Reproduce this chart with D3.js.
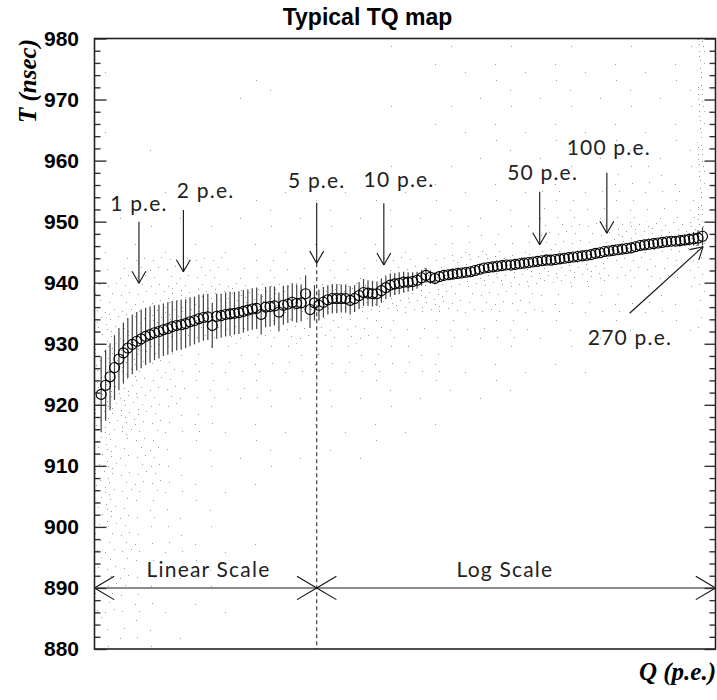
<!DOCTYPE html>
<html><head><meta charset="utf-8">
<script src="https://cdn.jsdelivr.net/npm/d3@7"></script>
<style>body{margin:0;background:#fff}</style>
</head><body>
<svg id="chart" width="717" height="700"></svg>
<script>
// ---------------- DATA ----------------
const qLinear = [0.15,0.25,0.35,0.45,0.55,0.65,0.75,0.85,0.95,1.05,1.15,1.25,1.35,1.45,1.55,1.65,1.75,1.85,1.95,2.05,2.15,2.25,2.35,2.45,2.55,2.65,2.75,2.85,2.95,3.05,3.15,3.25,3.35,3.45,3.55,3.65,3.75,3.85,3.95,4.05,4.15,4.25,4.35,4.45,4.55,4.65,4.75,4.85,4.95];
const tLinear = [921.7,923.2,924.6,926.1,927.5,928.5,929.3,929.9,930.4,930.8,931.2,931.5,931.8,932.0,932.3,932.5,932.8,933.0,933.1,933.3,933.6,933.8,934.1,934.3,934.4,933.0,934.5,934.6,934.8,934.9,935.0,935.1,935.3,935.5,935.7,935.8,934.8,936.0,936.1,936.2,935.2,936.3,936.5,936.8,936.6,936.7,938.2,935.6,936.7];
const eLinear = [6.2,5.8,5.5,5.3,5.1,5.0,4.9,4.9,4.8,4.8,4.7,4.6,4.5,4.4,4.3,4.3,4.2,4.1,4.1,4.0,4.0,3.9,3.9,3.8,3.8,3.7,3.7,3.6,3.6,3.6,3.5,3.5,3.5,3.4,3.4,3.4,3.3,3.3,3.3,3.2,3.2,3.2,3.1,3.1,3.1,3.0,3.0,3.0,2.9];

const qLog = [5.117,5.358,5.610,5.875,6.152,6.442,6.745,7.063,7.396,7.745,8.110,8.492,8.892,9.311,9.750,10.21,10.69,11.19,11.72,12.27,12.85,13.46,14.09,14.76,15.45,16.18,16.94,17.74,18.58,19.45,20.37,21.33,22.34,23.39,24.49,25.64,26.85,28.12,29.44,30.83,32.28,33.81,35.40,37.07,38.82,40.64,42.56,44.57,46.67,48.87,51.17,53.58,56.10,58.75,61.52,64.42,67.45,70.63,73.96,77.45,81.10,84.92,88.92,93.11,97.50,102.1,106.9,111.9,117.2,122.7,128.5,134.6,140.9,147.6,154.5,161.8,169.4,177.4,185.8,194.5,203.7,213.3,223.4,233.9,244.9,256.4,268.5];
const tLog = [936.3,936.8,937.2,937.4,937.4,937.4,937.4,937.1,937.4,937.9,
938.4,938.3,938.2,938.2,938.7,939.2,939.6,939.8,939.9,940.1,
940.1,940.2,940.4,940.8,941.2,940.9,940.7,941.0,941.2,941.3,
941.4,941.5,941.6,941.7,941.8,942.0,942.2,942.4,942.5,942.6,
942.7,942.8,942.9,942.9,943.0,943.1,943.2,943.3,943.4,943.5,
943.6,943.7,943.7,943.8,943.9,944.0,944.1,944.2,944.3,944.4,
944.5,944.6,944.8,944.9,945.1,945.2,945.3,945.4,945.5,945.6,
945.7,945.9,946.1,946.2,946.3,946.4,946.5,946.6,946.7,946.8,
946.8,946.9,947.0,947.1,947.2,947.3,947.6];
const eLog = [2.5,2.5,2.4,2.4,2.4,2.3,2.3,2.3,2.2,2.2,
2.2,2.1,2.1,2.0,2.0,1.9,1.9,1.8,1.8,1.7,
1.6,1.5,1.4,1.3,1.2,1.1,1.0,0.9,0.9,0.8,
0.8,0.8,0.7,0.7,0.7,0.7,0.7,0.6,0.6,0.6,
0.6,0.6,0.6,0.6,0.6,0.6,0.6,0.6,0.6,0.6,
0.6,0.6,0.6,0.6,0.6,0.6,0.6,0.6,0.6,0.6,
0.6,0.6,0.6,0.6,0.6,0.6,0.6,0.6,0.6,0.6,
0.6,0.6,0.6,0.6,0.6,0.6,0.6,0.6,0.6,0.6,
0.7,0.8,0.9,1.0,1.1,1.3,1.5];

// background event density (levels 0-5), rows top (980) to bottom (880), 5 ns each
const densityQEdges = [0,0.5,1,1.5,2,3,4,5,10,20,50,100,200,255,275,307];
const densityTEdges = [980,975,970,965,960,955,950,945,940,935,930,925,920,915,910,905,900,895,890,885,880];
const densityLevels = [
 [0,0,0,1,0,0,0, 0,1,1,1,1,1, 5,0],
 [1,0,0,0,0,1,0, 0,0,1,1,1,1, 5,0],
 [0,0,0,0,0,0,0, 0,1,1,1,1,1, 5,0],
 [1,0,1,0,0,0,0, 0,0,1,1,1,1, 5,0],
 [1,0,0,0,0,0,0, 0,1,1,1,2,1, 5,0],
 [0,1,0,1,0,1,1, 1,1,1,2,2,2, 5,0],
 [1,1,1,1,1,1,1, 1,1,2,3,4,4, 5,0],
 [2,3,3,3,3,2,2, 2,3,4,4,3,2, 4,0],
 [3,3,3,4,4,4,4, 4,4,3,2,2,1, 4,0],
 [4,4,4,4,3,3,3, 3,2,2,1,1,1, 3,0],
 [4,4,3,3,2,2,2, 2,2,1,1,0,0, 2,0],
 [4,4,3,3,2,2,1, 1,1,1,0,0,0, 2,0],
 [4,4,3,2,2,1,1, 1,1,0,0,0,0, 2,0],
 [4,3,3,2,1,1,1, 1,0,0,0,0,0, 2,0],
 [4,3,3,2,1,1,0, 0,0,0,0,0,0, 1,0],
 [4,3,2,2,1,0,0, 0,0,0,0,0,0, 1,0],
 [3,3,2,2,1,1,0, 0,0,0,0,0,0, 1,0],
 [3,3,2,1,1,0,0, 0,0,0,0,0,0, 1,0],
 [3,2,2,1,1,0,0, 0,0,0,0,0,0, 1,0],
 [2,2,1,1,0,0,0, 0,0,0,0,0,0, 1,0]
];

const yTicksMajor = [880,890,900,910,920,930,940,950,960,970,980];
const yTickLabels = ["880","890","900","910","920","930","940","950","960","970","980"];

// annotation arrows
const annotLabels = ["1 p.e.","2 p.e.","5 p.e.","10 p.e.","50 p.e.","100 p.e."];
const annotQ      = [1,2,5,10,50,100];
const annotTopT   = [950.0,951.9,953.1,953.0,954.9,958.0];
const annotTipT   = [939.9,941.8,943.2,942.9,946.2,948.1];
const annotLabelQ = [1,2.5,5,11.7,51.5,102];
const annotLabelT = [951.7,953.9,955.5,955.7,956.8,960.9];

const diagLabel = "270 p.e.";
const diagFrom = [126.5,935.0], diagTo = [270,945.9], diagLabelPos = [127,929.8];
const scaleT = 890, scaleSplitQ = 5;
const scaleLabels = ["Linear Scale","Log Scale"];
const scaleLabelQ = [2.565,34.9], scaleLabelT = 891.8;

// ---------------- LAYOUT ----------------
const L=94.5, R=715.5, TOP=38.5, BOT=649, SPLIT=316.7;
const svg = d3.select("#chart");
const y = d3.scaleLinear().domain([880,980]).range([BOT,TOP]);
const xLin = d3.scaleLinear().domain([0,5]).range([L,SPLIT]);
const xLog = d3.scaleLog().domain([5,307]).range([SPLIT,R]);
const x = q => q<=5 ? xLin(q) : xLog(q);

const defs = svg.append("defs");
defs.append("clipPath").attr("id","plotclip").append("rect")
  .attr("x",L).attr("y",TOP).attr("width",R-L).attr("height",BOT-TOP);
const dotCounts=[0,6,18,42,80,150];
for (let lv=1; lv<=5; lv++){
  const p = defs.append("pattern").attr("id","dots"+lv)
    .attr("patternUnits","userSpaceOnUse").attr("width",60).attr("height",60);
  for (let n=0;n<dotCounts[lv];n++){
    const px = ((0.5+0.7548776662*n)%1)*60, py=((0.5+0.5698402910*n)%1)*60;
    p.append("rect").attr("x",Math.floor(px)).attr("y",Math.floor(py))
      .attr("width",1).attr("height",1).attr("fill","#9a9a9a");
  }
}

// scatter density cells
const cells=[];
densityLevels.forEach((row,ri)=>row.forEach((lv,ci)=>{
  if(lv>0) cells.push({q0:densityQEdges[ci],q1:densityQEdges[ci+1],t0:densityTEdges[ri],t1:densityTEdges[ri+1],lv});
}));
svg.append("g").attr("clip-path","url(#plotclip)").selectAll("rect").data(cells).join("rect")
  .attr("x",d=>x(d.q0)).attr("width",d=>x(d.q1)-x(d.q0))
  .attr("y",d=>y(d.t0)).attr("height",d=>y(d.t1)-y(d.t0))
  .attr("fill",d=>"url(#dots"+d.lv+")");

// dashed split line
svg.append("line").attr("x1",x(5)).attr("x2",x(5)).attr("y1",y(annotTipT[2])).attr("y2",BOT)
  .attr("stroke","#444").attr("stroke-width",1.2).attr("stroke-dasharray","4,3");

// data points
const pts = qLinear.map((q,i)=>({q,t:tLinear[i],e:eLinear[i]}))
  .concat(qLog.map((q,i)=>({q,t:tLog[i],e:eLog[i]})));
svg.append("g").selectAll("line").data(pts).join("line")
  .attr("x1",d=>x(d.q)).attr("x2",d=>x(d.q))
  .attr("y1",d=>y(d.t+d.e)).attr("y2",d=>y(d.t-d.e))
  .attr("stroke","#444").attr("stroke-width",1.2);
svg.append("g").selectAll("circle").data(pts).join("circle")
  .attr("cx",d=>x(d.q)).attr("cy",d=>y(d.t)).attr("r",5)
  .attr("fill","none").attr("stroke","#000").attr("stroke-width",1.1);

// arrow helper
function arrow(g,x1,y1,x2,y2,hl,ang,color,w){
  g.append("line").attr("x1",x1).attr("y1",y1).attr("x2",x2).attr("y2",y2)
    .attr("stroke",color).attr("stroke-width",w);
  headAt(g,x1,y1,x2,y2,hl,ang);
}
function headAt(g,x1,y1,x2,y2,hl,ang){
  const a=Math.atan2(y2-y1,x2-x1);
  [ang,-ang].forEach(s=>{
    g.append("line").attr("x1",x2).attr("y1",y2)
      .attr("x2",x2-hl*Math.cos(a+s)).attr("y2",y2-hl*Math.sin(a+s))
      .attr("stroke","#111").attr("stroke-width",1.1);
  });
}
const ag = svg.append("g");
annotQ.forEach((q,i)=>{
  arrow(ag,x(q),y(annotTopT[i]),x(q),y(annotTipT[i]),13.9,Math.PI/6,"#111",1.1);
  ag.append("text").attr("x",x(annotLabelQ[i])).attr("y",y(annotLabelT[i]))
    .attr("text-anchor","middle").text(annotLabels[i]);
});
arrow(ag,x(diagFrom[0]),y(diagFrom[1]),x(diagTo[0]),y(diagTo[1]),13.9,Math.PI/6,"#111",1.1);
ag.append("text").attr("x",x(diagLabelPos[0])).attr("y",y(diagLabelPos[1]))
  .attr("text-anchor","middle").text(diagLabel);
scaleLabels.forEach((s,i)=>{
  ag.append("text").attr("x",x(scaleLabelQ[i])).attr("y",y(scaleLabelT))
    .attr("text-anchor","middle").text(s);
});
ag.selectAll("text").attr("font-family","Lato, 'DejaVu Sans', sans-serif").attr("font-size","21px")
  .attr("font-weight",400).attr("letter-spacing","1.2px").attr("fill","#222");

// scale arrows at T=890
const sy=y(scaleT);
svg.append("line").attr("x1",L).attr("x2",R).attr("y1",sy).attr("y2",sy)
  .attr("stroke","#666").attr("stroke-width",1.6);
const hg=svg.append("g");
headAt(hg,x(scaleSplitQ),sy,L,sy,22.9,0.536);
headAt(hg,L,sy,x(scaleSplitQ),sy,22.9,0.536);
headAt(hg,R,sy,x(scaleSplitQ),sy,22.9,0.536);
headAt(hg,x(scaleSplitQ),sy,R,sy,22.9,0.536);

// axes (ticks inward)
const yMinor = d3.range(882,980,2).filter(v=>v%10!==0);
const axL = svg.append("g").attr("transform",`translate(${L},0)`)
  .call(d3.axisLeft(y).tickValues(yTicksMajor).tickSize(-12).tickPadding(15.5)
    .tickFormat((d,i)=>yTickLabels[i]));
svg.append("g").attr("transform",`translate(${L},0)`)
  .call(d3.axisLeft(y).tickValues(yMinor).tickSize(-6).tickFormat(""));
svg.append("g").attr("transform",`translate(${R},0)`)
  .call(d3.axisRight(y).tickValues(yTicksMajor).tickSize(-11).tickFormat(""));
svg.append("g").attr("transform",`translate(${R},0)`)
  .call(d3.axisRight(y).tickValues(yMinor).tickSize(-6).tickFormat(""));
svg.selectAll(".domain").remove();
svg.selectAll(".tick line").attr("stroke","#333").attr("stroke-width",1.4);
axL.selectAll("text").attr("font-family","'Liberation Sans', Arial, sans-serif")
  .attr("font-size","21px").attr("font-weight","bold").attr("fill","#000");

// frame
svg.append("rect").attr("x",L).attr("y",TOP).attr("width",R-L).attr("height",BOT-TOP)
  .attr("fill","none").attr("stroke","#222").attr("stroke-width",1.6);

// titles
svg.append("text").attr("x",367.5).attr("y",25).attr("text-anchor","middle")
  .attr("font-family","'Liberation Sans', Arial, sans-serif").attr("font-size","23px")
  .attr("font-weight","bold").text("Typical TQ map");
svg.append("text").attr("transform","translate(35.5,39) rotate(-90)").attr("text-anchor","end")
  .attr("font-family","'Liberation Serif', 'Times New Roman', serif").attr("font-size","25px")
  .attr("font-weight","bold").attr("font-style","italic").text("T (nsec)");
svg.append("text").attr("x",716).attr("y",680).attr("text-anchor","end")
  .attr("font-family","'Liberation Serif', 'Times New Roman', serif").attr("font-size","25px")
  .attr("font-weight","bold").attr("font-style","italic").text("Q (p.e.)");
</script>
</body></html>
